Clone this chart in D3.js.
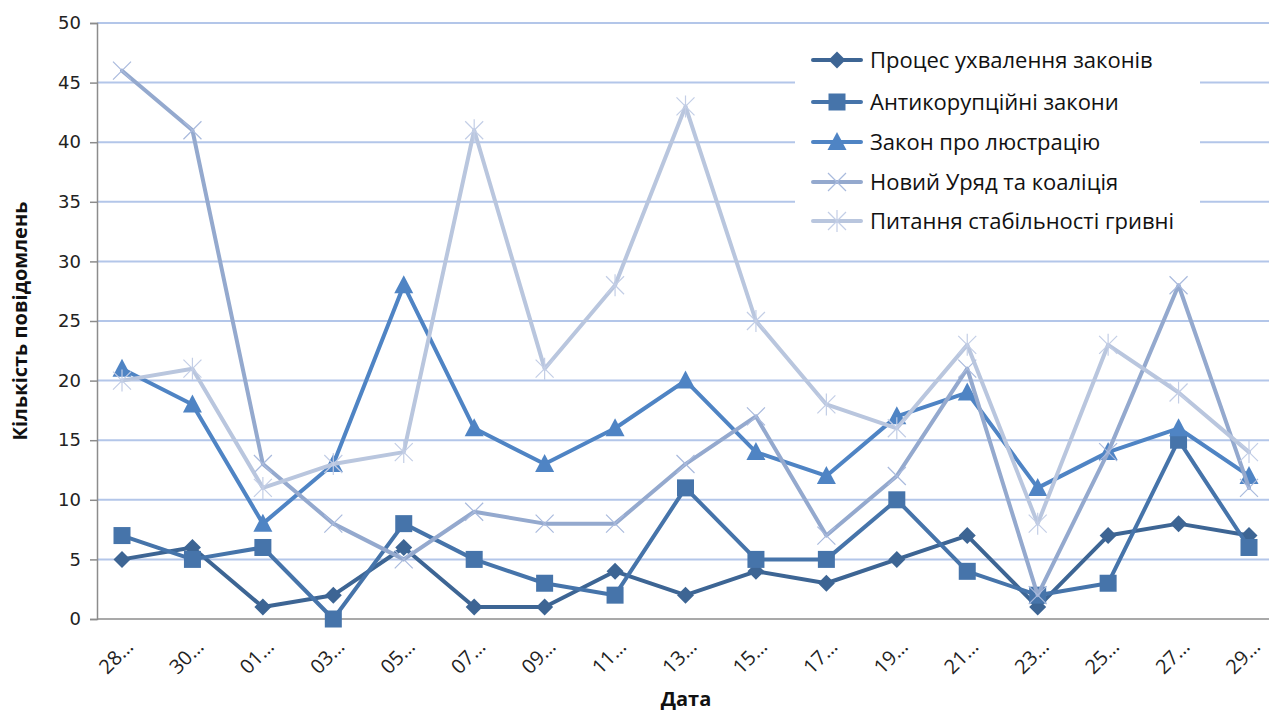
<!DOCTYPE html>
<html><head><meta charset="utf-8">
<script src="https://cdn.jsdelivr.net/npm/d3@7"></script>
<style>body{margin:0;background:#fff}svg{display:block}</style>
</head><body>
<svg id="c" width="1269" height="716"></svg>
<script>
const categories = ["28…","30…","01…","03…","05…","07…","09…","11…","13…","15…","17…","19…","21…","23…","25…","27…","29…"];
const seriesNames = ["Процес ухвалення законів","Антикорупційні закони","Закон про люстрацію","Новий Уряд та коаліція","Питання стабільності гривні"];
const s1 = [5,6,1,2,6,1,1,4,2,4,3,5,7,1,7,8,7];
const s2 = [7,5,6,0,8,5,3,2,11,5,5,10,4,2,3,15,6];
const s3 = [21,18,8,13,28,16,13,16,20,14,12,17,19,11,14,16,12];
const s4 = [46,41,13,8,5,9,8,8,13,17,7,12,21,2,14,28,11];
const s5 = [20,21,11,13,14,41,21,28,43,25,18,16,23,8,23,19,14];
const yTicks = [0,5,10,15,20,25,30,35,40,45,50];
const colors = ["#3D6594","#4674AA","#4F84C4","#94A9CE","#B9C6DE"];
const markerColors = ["#3D6594","#4674AA","#4F84C4","#A9BADD","#C3CEE6"];
const shapes = ["diamond","square","triangle","x","star"];
const data = [s1,s2,s3,s4,s5];

const svg = d3.select("#c");
const L=97, R=1270, T=23, B=619;
const x = d3.scalePoint().domain(categories).range([122,1249]);
const y = d3.scaleLinear().domain([0,50]).range([B,T]);

// gridlines
svg.append("g").selectAll("line").data(yTicks.filter(d=>d>0)).join("line")
  .attr("x1",L).attr("x2",R).attr("y1",d=>y(d)).attr("y2",d=>y(d))
  .attr("stroke","#B3C6E9").attr("stroke-width",2);

// y axis
const ya = svg.append("g").attr("transform",`translate(${L},0)`)
  .call(d3.axisLeft(y).tickValues(yTicks).tickSize(7).tickPadding(9));
ya.select(".domain").attr("stroke","#8C8C8C").attr("stroke-width",1.5);
ya.selectAll(".tick line").attr("stroke","#8C8C8C").attr("stroke-width",1.5);
ya.selectAll("text").attr("font-family","DejaVu Sans").attr("font-size",18).attr("fill","#222");

// x axis
const xa = svg.append("g").attr("transform",`translate(0,${B})`)
  .call(d3.axisBottom(x).tickSize(0).tickPadding(0));
xa.select(".domain").attr("d",`M${L},0H${R}`).attr("stroke","#8C8C8C").attr("stroke-width",1.5);
xa.selectAll("text").attr("font-family","Open Sans").attr("font-size",20).attr("fill","#222")
  .attr("text-anchor","end").attr("dy",0)
  .attr("transform","translate(12,29) rotate(-45)");

// titles
svg.append("text").attr("x",686).attr("y",706).attr("text-anchor","middle")
  .attr("font-family","Open Sans").attr("font-weight","bold").attr("font-size",20).attr("fill","#111").text("Дата");
svg.append("text").attr("transform",`translate(27,${(T+B)/2}) rotate(-90)`).attr("text-anchor","middle")
  .attr("font-family","Open Sans").attr("font-weight","bold").attr("font-size",20).attr("fill","#111").text("Кількість повідомлень");

function drawMarker(g, shape, cx, cy, fill, stroke){
  if(shape==="diamond"){
    g.append("path").attr("d",`M${cx},${cy-8.5}L${cx+8.5},${cy}L${cx},${cy+8.5}L${cx-8.5},${cy}Z`).attr("fill",fill);
  } else if(shape==="square"){
    g.append("rect").attr("x",cx-8.5).attr("y",cy-8.5).attr("width",17).attr("height",17).attr("fill",fill);
  } else if(shape==="triangle"){
    g.append("path").attr("d",`M${cx},${cy-10}L${cx+9.5},${cy+8}L${cx-9.5},${cy+8}Z`).attr("fill",fill);
  } else if(shape==="x"){
    g.append("path").attr("d",`M${cx-9},${cy-9}L${cx+9},${cy+9}M${cx-9},${cy+9}L${cx+9},${cy-9}`).attr("stroke",stroke).attr("stroke-width",1.2).attr("fill","none");
  } else {
    g.append("path").attr("d",`M${cx-9},${cy-9}L${cx+9},${cy+9}M${cx-9},${cy+9}L${cx+9},${cy-9}M${cx},${cy-11}L${cx},${cy+11}`).attr("stroke",stroke).attr("stroke-width",1.2).attr("fill","none");
  }
}

// legend background
const lg = svg.append("g");
lg.append("rect").attr("x",795).attr("y",32).attr("width",405).attr("height",210).attr("fill","#fff");

const line = d3.line().x((d,i)=>x(categories[i])).y(d=>y(d));
data.forEach((arr,k)=>{
  const g = svg.append("g");
  g.append("path").datum(arr).attr("d",line).attr("fill","none")
    .attr("stroke",colors[k]).attr("stroke-width",4).attr("stroke-linejoin","round").attr("stroke-linecap","round");
  arr.forEach((v,i)=>drawMarker(g,shapes[k],x(categories[i]),y(v),colors[k],markerColors[k]));
});

// legend entries
const legY = [60,102,142,182,221];
seriesNames.forEach((n,k)=>{
  const g = lg.append("g");
  g.append("line").attr("x1",813).attr("x2",861).attr("y1",legY[k]).attr("y2",legY[k])
    .attr("stroke",colors[k]).attr("stroke-width",4).attr("stroke-linecap","round");
  drawMarker(g,shapes[k],837,legY[k],colors[k],markerColors[k]);
  g.append("text").attr("x",870).attr("y",legY[k]).attr("dy","0.35em")
    .attr("font-family","Open Sans").attr("font-size",22).attr("fill","#111").text(n);
});
</script>
</body></html>
